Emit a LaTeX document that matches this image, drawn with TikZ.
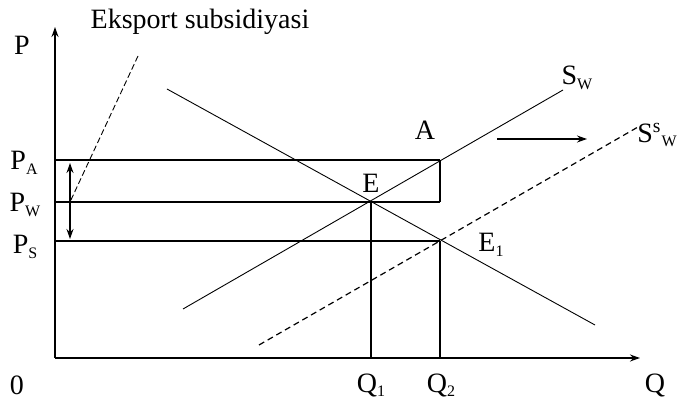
\documentclass[tikz,border=0pt]{standalone}
\usepackage{fontspec}
\setmainfont{Liberation Serif}
\usepackage{tikz}
\usetikzlibrary{positioning,calc,arrows.meta}
\newcommand{\lowsub}[1]{\raisebox{-0.35ex}{\fontsize{8}{9}\selectfont #1}}
\newcommand{\Pa}{P\lowsub{A}}
\newcommand{\Pw}{P\lowsub{W}}
\newcommand{\Ps}{P\lowsub{S}}

\begin{document}
\begin{tikzpicture}[>={Stealth[length=5pt,width=3.5pt]}, x=0.5pt, y=0.5pt,
    font=\fontsize{14}{16}\selectfont,
    axis/.style={->, line width=0.7pt},
    level/.style={line width=0.6pt},
    curve/.style={line width=0.45pt},
    shifted/.style={line width=0.6pt, dash pattern=on 3pt off 2pt},
    leader/.style={line width=0.45pt, dash pattern=on 3pt off 1.5pt}]
    \useasboundingbox (-55,-44) rectangle (642,358);
    % axes
    \coordinate (O) at (0,0);
    \coordinate (Ptop) at (0,331);
    \coordinate (Qend) at (585,0);
    \draw[axis] (O) -- (Ptop);
    \draw[axis] (O) -- (Qend);
    % points
    \coordinate (A) at (385,198);
    \coordinate (E) at (316,156);
    \coordinate (E1) at (385,117);
    \coordinate (Q1) at (316,0);
    \coordinate (Q2) at (385,0);
    \coordinate (yA) at (0,198);
    \coordinate (yW) at (0,156);
    \coordinate (yS) at (0,117);
    % price levels
    \draw[level] (yA) -- (A);
    \draw[level] (yW) -- (E -| A);
    \draw[level] (yS) -- (E1);
    \draw[level] (E) -- (Q1);
    \draw[level] (E1) -- (Q2);
    \draw[line width=1.1pt] (A) -- (E -| A);
    % demand and supply
    \coordinate (D0) at (112,269);
    \coordinate (D1) at (540,33);
    \coordinate (S0) at (128,49);
    \coordinate (S1) at (508,268);
    \coordinate (Ss0) at (204,13);
    \coordinate (Ss1) at (583,231);
    \draw[curve] (D0) -- (D1);
    \draw[curve] (S0) -- (S1);
    \draw[shifted] (Ss0) -- (Ss1);
    % subsidy
    \coordinate (lead) at (83,302);
    \coordinate (gapT) at (15,195);
    \coordinate (gapB) at (15,119);
    \draw[<->, line width=0.6pt] (gapT) -- (gapB);
    \draw[leader] (lead) -- (gapT |- yW);
    \coordinate (shiftL) at (442,219);
    \coordinate (shiftR) at (532,219);
    \draw[->, line width=0.6pt] (shiftL) -- (shiftR);
    % labels
    \node (subsidy) at (145,336) {Eksport subsidiyasi};
    \node (lP) at (-33,313) {P};
    \node (lPA) at (-31,195) {\Pa};
    \node (lPW) at (-30,153) {\Pw};
    \node (lPS) at (-30,111) {\Ps};
    \node (l0) at (-38,-27) {0};
    \node (lQ1) at (316,-27) {Q\lowsub{1}};
    \node (lQ2) at (386,-27) {Q\lowsub{2}};
    \node (lQ) at (600,-27) {Q};
    \node (lA) at (370,228) {A};
    \node (lE) at (316,175) {E};
    \node (lE1) at (436,113) {E\lowsub{1}};
    \node (lSW) at (522,280) {S\lowsub{W}};
    \node (lSsW) at (602,223) {S\textsuperscript{s}\lowsub{W}};
\end{tikzpicture}
\end{document}
